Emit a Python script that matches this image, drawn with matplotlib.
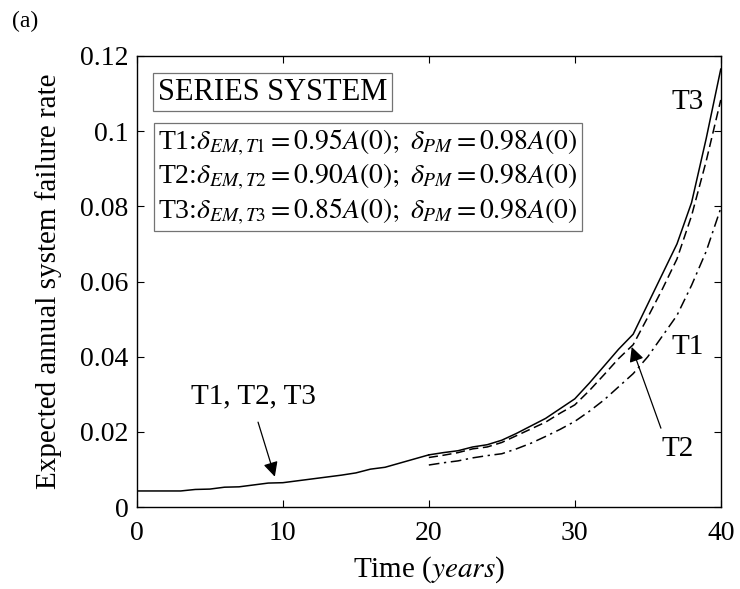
"""Expected annual system failure rate for a series system, three EM thresholds."""

import matplotlib
matplotlib.use("Agg")
import matplotlib.pyplot as plt

# ---------- data -----------------------------------------------------------
t_common = list(range(0, 21))
rate_common = [0.0043, 0.0043, 0.0043, 0.0043, 0.0047, 0.0048, 0.0053, 0.0054,
               0.0059, 0.0064, 0.0065, 0.0070, 0.0075, 0.0080, 0.0085, 0.0091,
               0.0101, 0.0106, 0.0117, 0.0128, 0.0139]

t_late = list(range(20, 41))
rate_t3 = [0.0139, 0.0145, 0.0150, 0.0160, 0.0166, 0.0178, 0.0196, 0.0216,
           0.0236, 0.0262, 0.0288, 0.0330, 0.0375, 0.0420, 0.0460, 0.0540,
           0.0620, 0.0700, 0.0810, 0.0980, 0.1165]
rate_t2 = [0.0132, 0.0138, 0.0145, 0.0155, 0.0160, 0.0172, 0.0190, 0.0208,
           0.0226, 0.0250, 0.0272, 0.0310, 0.0352, 0.0395, 0.0432, 0.0505,
           0.0580, 0.0660, 0.0775, 0.0920, 0.1083]
rate_t1 = [0.0112, 0.0118, 0.0123, 0.0131, 0.0137, 0.0142, 0.0155, 0.0170,
           0.0188, 0.0207, 0.0228, 0.0255, 0.0285, 0.0320, 0.0355, 0.0400,
           0.0455, 0.0510, 0.0590, 0.0680, 0.0795]

x_ticks = [0, 10, 20, 30, 40]
y_ticks = [0, 0.02, 0.04, 0.06, 0.08, 0.10, 0.12]
y_tick_labels = ["0", "0.02", "0.04", "0.06", "0.08", "0.1", "0.12"]

legend_lines = [
    r"T1:$\delta_{EM,T1}=0.95A(0);\ \delta_{PM}=0.98A(0)$",
    r"T2:$\delta_{EM,T2}=0.90A(0);\ \delta_{PM}=0.98A(0)$",
    r"T3:$\delta_{EM,T3}=0.85A(0);\ \delta_{PM}=0.98A(0)$",
]

# ---------- style ----------------------------------------------------------
plt.rcParams["font.family"] = ["Liberation Serif", "DejaVu Serif"]
plt.rcParams["mathtext.fontset"] = "stix"

fig = plt.figure(figsize=(7.40, 5.89), dpi=100)
ax = fig.add_axes([0.185, 0.139, 0.789, 0.766])

lw = 1.1
ax.plot(t_common, rate_common, color="k", lw=lw)
ax.plot(t_late, rate_t3, color="k", lw=lw, ls="-")
ax.plot(t_late, rate_t2, color="k", lw=lw, ls=(0, (6, 3)))
ax.plot(t_late, rate_t1, color="k", lw=lw, ls=(0, (7, 3, 1.5, 3)))

ax.set_xlim(0, 40)
ax.set_ylim(0, 0.12)
ax.set_xticks(x_ticks)
ax.set_yticks(y_ticks)
ax.set_yticklabels(y_tick_labels)
ax.tick_params(direction="in", top=True, right=True, length=5, width=0.8)
ax.tick_params(axis="x", labelsize=20, pad=10)
ax.tick_params(axis="y", labelsize=20, pad=6)
for s in ax.spines.values():
    s.set_linewidth(1.0)

ax.set_xlabel(r"Time ($\it{years}$)", fontsize=21, labelpad=6)
ax.set_ylabel("Expected annual system failure rate", fontsize=21, labelpad=13)

# boxed legend-like texts
ax.text(0.036, 0.920, "SERIES SYSTEM", transform=ax.transAxes, fontsize=22,
        ha="left", va="center",
        bbox=dict(boxstyle="square,pad=0.15", fc="white", ec="0.45", lw=0.9))
ax.text(0.036, 0.731, "\n".join(legend_lines), transform=ax.transAxes,
        fontsize=20, ha="left", va="center", linespacing=1.2,
        bbox=dict(boxstyle="square,pad=0.15", fc="white", ec="0.45", lw=0.9))

# curve labels
ax.text(37.7, 0.1078, "T3", fontsize=21, ha="center", va="center")
ax.text(37.7, 0.0426, "T1", fontsize=21, ha="center", va="center")
ax.text(37.05, 0.0154, "T2", fontsize=21, ha="center", va="center")
ax.text(7.95, 0.0295, "T1, T2, T3", fontsize=21, ha="center", va="center")

arrow = dict(arrowstyle="-|>", color="k", lw=0.9, mutation_scale=22,
             shrinkA=0, shrinkB=0)
ax.annotate("", xy=(33.9, 0.0426), xytext=(35.9, 0.0210), arrowprops=arrow)
ax.annotate("", xy=(9.45, 0.0081), xytext=(8.3, 0.0226), arrowprops=arrow)

fig.text(0.034, 0.964, "(a)", fontsize=17, ha="center", va="center")

fig.savefig("out.png", dpi=100)
